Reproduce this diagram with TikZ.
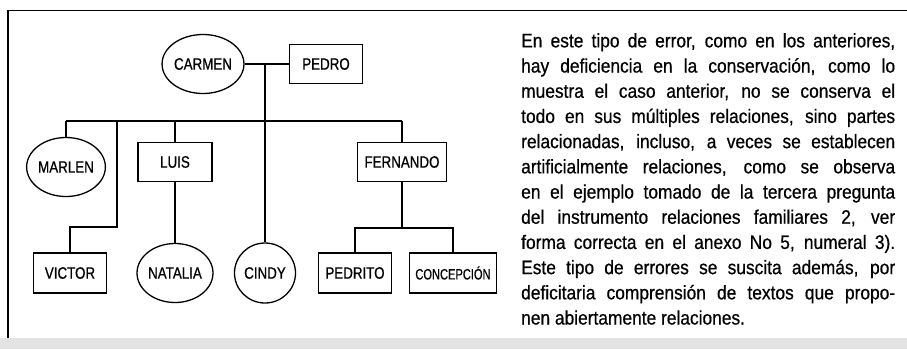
\documentclass[tikz,border=0pt]{standalone}
\usepackage{fontspec}
\setmainfont{Liberation Sans}
\newfontfamily\lblfont[FakeStretch=0.81,FakeBold=0.7]{Liberation Sans}
\newfontfamily\narrowfont[FakeStretch=0.74,FakeBold=0.6]{Liberation Sans}
\newfontfamily\parafont[FakeStretch=0.89,FakeBold=0.6]{Liberation Sans}
\usetikzlibrary{shapes.geometric}
\tikzset{
  person/.style={draw=black, line width=1.3pt, inner sep=0pt, font=\lblfont\fontsize{16.5}{16.5}\selectfont},
  boxnode/.style={person, rectangle, minimum width=73pt, minimum height=39pt},
  ovalnode/.style={person, ellipse, minimum width=69pt, minimum height=59pt},
  link/.style={line width=1.3pt, black}
}
\newcommand{\jl}[1]{\makebox[374pt][s]{#1}}
\begin{document}
\begin{tikzpicture}[x=1pt,y=-1pt]
\useasboundingbox (0,0) rectangle (907,349);
% frame and bottom band
\fill[gray!22] (0,338) rectangle (907,349);
\draw[line width=1.8pt] (8,338) -- (8,10.5) -- (907,10.5);
% nodes
\node[ovalnode] (carmen) at (203,64) {CARMEN};
\node[boxnode] (pedro) at (326,64) {PEDRO};
\node[ovalnode] (marlen) at (66,167) {MARLEN};
\node[boxnode, minimum width=74pt] (luis) at (175,162) {LUIS};
\node[boxnode, minimum width=89pt] (fernando) at (402,162) {FERNANDO};
\node[boxnode, minimum height=40pt] (victor) at (70,273) {VICTOR};
\node[ovalnode, minimum width=73pt] (natalia) at (175,273) {NATALIA};
\node[ovalnode, minimum width=61pt, minimum height=60pt] (cindy) at (265,273) {CINDY};
\node[boxnode, minimum height=40pt] (pedrito) at (355,273) {PEDRITO};
\node[boxnode, minimum width=87pt, minimum height=40pt, font=\narrowfont\fontsize{15}{15}\selectfont] (concepcion) at (453,273) {CONCEPCIÓN};
% connector coordinates
\coordinate (m) at (265,64);
\coordinate (bus) at (265,121);
\coordinate (v1) at (117,121);
\coordinate (v2) at (117,227);
\coordinate (f) at (402,228);
% connectors
\draw[link] (carmen.east) -- (pedro.west);
\draw[link] (m) -- (cindy.north);
\draw[link] (marlen.north |- bus) -- (fernando.north |- bus);
\draw[link] (marlen.north |- bus) -- (marlen.north);
\draw[link] (luis.north |- bus) -- (luis.north);
\draw[link] (fernando.north |- bus) -- (fernando.north);
\draw[link] (v1) -- (v2) -| (victor.north);
\draw[link] (luis.south) -- (natalia.north);
\draw[link] (fernando.south) -- (f);
\draw[link] (pedrito.north) |- (f) -| (concepcion.north);
% paragraph
\node[anchor=north west, inner sep=0pt, align=left,
      font=\parafont\fontsize{19.5}{25.2}\selectfont] (para) at (521,33) {%
\jl{En este tipo de error, como en los anteriores,}\\
\jl{hay deficiencia en la conservación, como lo}\\
\jl{muestra el caso anterior, no se conserva el}\\
\jl{todo en sus múltiples relaciones, sino partes}\\
\jl{relacionadas, incluso, a veces se establecen}\\
\jl{artificialmente relaciones, como se observa}\\
\jl{en el ejemplo tomado de la tercera pregunta}\\
\jl{del instrumento relaciones familiares 2, ver}\\
\jl{forma correcta en el anexo No 5, numeral 3).}\\
\jl{Este tipo de errores se suscita además, por}\\
\jl{deficitaria comprensión de textos que propo-}\\
nen abiertamente relaciones.};
\end{tikzpicture}
\end{document}
